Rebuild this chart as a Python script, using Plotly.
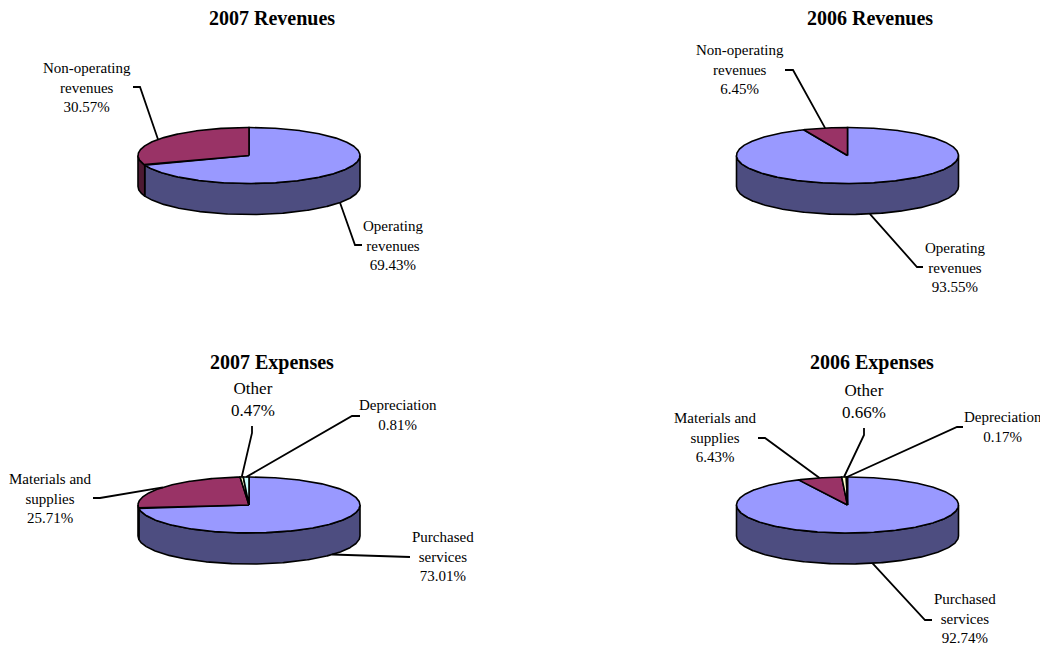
import numpy as np
import plotly.graph_objects as go

# ---------------- data ----------------
rev_labels = ["Operating<br>revenues", "Non-operating<br>revenues"]
rev_2007 = [69.43, 30.57]
rev_2006 = [93.55, 6.45]

exp_labels = ["Purchased<br>services", "Materials and<br>supplies", "Other", "Depreciation"]
exp_2007 = [73.01, 25.71, 0.47, 0.81]
exp_2006 = [92.74, 6.43, 0.66, 0.17]

titles = ["2007 Revenues", "2006 Revenues", "2007 Expenses", "2006 Expenses"]

# ---------------- style / layout ----------------
top_colors = ["#9999FF", "#993366", "#FFFFCC", "#CCFFFF"]
side_colors = ["#4D4D80", "#4D1A33", "#808066", "#668080"]
FONT = "Liberation Serif, Times New Roman, serif"
RX, RY, H = 111, 28, 31

# per pie: center, title position, and per-label (text pos, font size, elbow, end)
pies = [
    dict(title=titles[0], tpos=(272, 18), c=(249, 155.5), labels=rev_labels, values=rev_2007,
         lab=[dict(t=(393, 245), fs=15, el=(355, 245), en=(362, 245)),
              dict(t=(87, 87), fs=15, el=(140, 87), en=(133, 87))]),
    dict(title=titles[1], tpos=(870, 18), c=(847.5, 155.5), labels=rev_labels, values=rev_2006,
         lab=[dict(t=(955, 267), fs=15, el=(917, 267), en=(923, 267)),
              dict(t=(740, 69), fs=15, el=(793, 70), en=(785, 70))]),
    dict(title=titles[2], tpos=(272, 362), c=(249, 505), labels=exp_labels, values=exp_2007,
         lab=[dict(t=(443, 556), fs=15, el=(404, 557), en=(410, 557)),
              dict(t=(50, 498), fs=15, el=(100, 498), en=(93, 498)),
              dict(t=(253, 399.5), fs=17, el=(252, 433), en=(252, 426)),
              dict(t=(398, 415), fs=15, el=(352, 416), en=(360, 416))]),
    dict(title=titles[3], tpos=(872, 362), c=(847.5, 505), labels=exp_labels, values=exp_2006,
         lab=[dict(t=(965, 618), fs=15, el=(925, 620), en=(932, 620)),
              dict(t=(715, 437), fs=15, el=(765, 438), en=(758, 438)),
              dict(t=(864, 401.5), fs=17, el=(864, 435), en=(864, 428)),
              dict(t=(1003, 427), fs=15, el=(957, 427), en=(963, 427))]),
]

fig = go.Figure()
annotations = []


def ell(cx, cy, th_deg, dy=0.0):
    th = np.radians(th_deg)
    return cx + RX * np.sin(th), cy - RY * np.cos(th) + dy


for p in pies:
    cx, cy = p["c"]
    vals = np.array(p["values"], dtype=float)
    frac = vals / vals.sum()
    edges = np.concatenate([[0], np.cumsum(frac)]) * 360.0

    # outer walls (front half: 90..270 deg clockwise from top)
    for i in range(len(vals)):
        a0, a1 = edges[i], edges[i + 1]
        s, e = max(a0, 90.0), min(a1, 270.0)
        if e <= s:
            continue
        th = np.linspace(s, e, max(3, int((e - s) * 2)))
        xt, yt = ell(cx, cy, th)
        xb, yb = ell(cx, cy, th[::-1], H)
        xs = np.concatenate([xt, xb, xt[:1]])
        ys = np.concatenate([yt, yb, yt[:1]])
        fig.add_trace(go.Scatter(x=xs, y=ys, mode="lines", fill="toself",
                                 fillcolor=side_colors[i],
                                 line=dict(color="black", width=1.6),
                                 hoverinfo="skip", showlegend=False))

    # top faces
    for i in range(len(vals)):
        a0, a1 = edges[i], edges[i + 1]
        th = np.linspace(a0, a1, max(3, int((a1 - a0) * 2)))
        xa, ya = ell(cx, cy, th)
        xs = np.concatenate([[cx], xa, [cx]])
        ys = np.concatenate([[cy], ya, [cy]])
        fig.add_trace(go.Scatter(x=xs, y=ys, mode="lines", fill="toself",
                                 fillcolor=top_colors[i],
                                 line=dict(color="black", width=1.6),
                                 hoverinfo="skip", showlegend=False))

    # leader lines + labels
    for i, lab in enumerate(p["lab"]):
        mid = (edges[i] + edges[i + 1]) / 2.0
        ax, ay = ell(cx, cy, mid, H if 90 < mid < 270 else 0.0)
        fig.add_trace(go.Scatter(x=[ax, lab["el"][0], lab["en"][0]],
                                 y=[ay, lab["el"][1], lab["en"][1]],
                                 mode="lines", line=dict(color="black", width=1.8),
                                 hoverinfo="skip", showlegend=False))
        annotations.append(dict(x=lab["t"][0], y=lab["t"][1], xref="x", yref="y",
                                text=f"{p['labels'][i]}<br>{vals[i]:.2f}%",
                                showarrow=False, xanchor="center", yanchor="middle",
                                align="center",
                                font=dict(family=FONT, size=lab["fs"], color="black")))

    annotations.append(dict(x=p["tpos"][0], y=p["tpos"][1], xref="x", yref="y",
                            text=f"<b>{p['title']}</b>", showarrow=False,
                            xanchor="center", yanchor="middle",
                            font=dict(family=FONT, size=20, color="black")))

fig.update_layout(
    width=1040, height=647,
    margin=dict(l=0, r=0, t=0, b=0),
    paper_bgcolor="white", plot_bgcolor="white",
    xaxis=dict(range=[0, 1040], visible=False, fixedrange=True),
    yaxis=dict(range=[647, 0], visible=False, fixedrange=True),
    annotations=annotations,
    showlegend=False,
)

fig.write_html("out.html")
